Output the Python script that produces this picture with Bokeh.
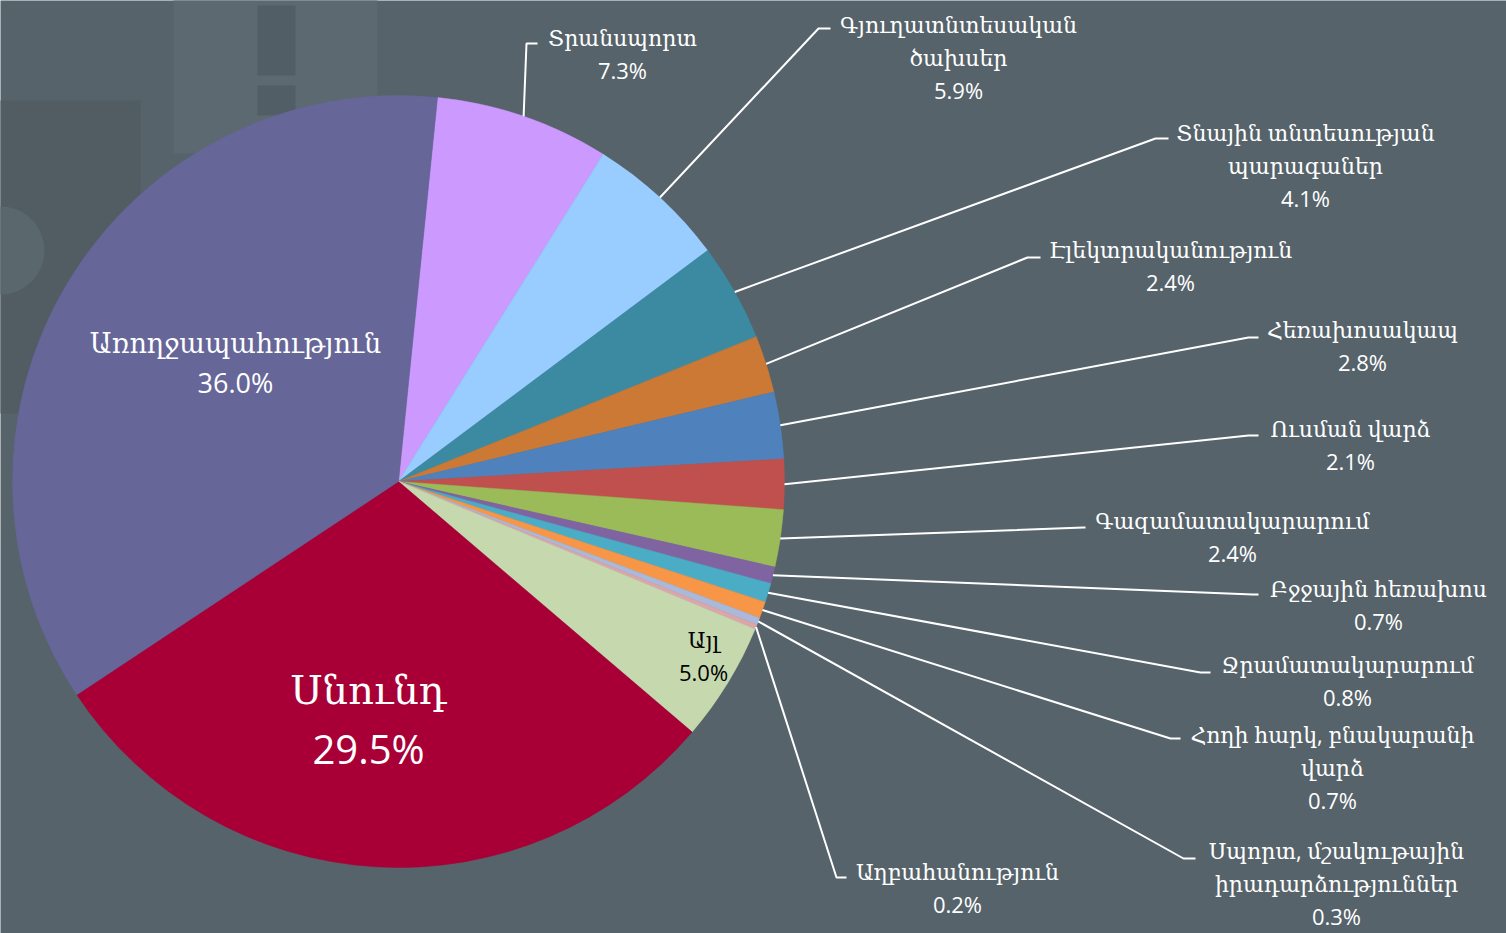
import math
import pandas as pd
from bokeh.plotting import figure
from bokeh.models import Range1d, ColumnDataSource
from bokeh.core.properties import value
from bokeh.embed import file_html
from bokeh.resources import INLINE

# ---------------- data (clockwise from the top) ----------------
categories = [
    "Տրանսպորտ",
    "Գյուղատնտեսական\nծախսեր",
    "Տնային տնտեսության\nպարագաներ",
    "Էլեկտրականություն",
    "Հեռախոսակապ",
    "Ուսման վարձ",
    "Գազամատակարարում",
    "Բջջային հեռախոս",
    "Ջրամատակարարում",
    "Հողի հարկ, բնակարանի\nվարձ",
    "Սպորտ, մշակութային\nիրադարձություններ",
    "Աղբահանություն",
    "Այլ",
    "Սնունդ",
    "Առողջապահություն",
]
values = [7.3, 5.9, 4.1, 2.4, 2.8, 2.1, 2.4, 0.7, 0.8, 0.7, 0.3, 0.2, 5.0, 29.5, 36.0]
colors = ["#CC99FF", "#99CCFF", "#3B8AA2", "#CB7935", "#4F81BD", "#C0504D",
          "#9BBB59", "#8064A2", "#4BACC6", "#F79646", "#AAB9DA", "#DBA6AA",
          "#C6D8AE", "#A80036", "#666699"]

# ---------------- layout (page pixels) ----------------
W, H = 1506, 933
CX, CY, R = 398, 481, 386
START_DEG = 84.2

def Y(py):
    return H - py

# outside labels: (label centre x, label centre y, elbow x, elbow y, tail x)
outside = {
    0: (622, 53, 526, 43, 537),
    1: (958, 56, 818, 28, 830),
    2: (1305, 164, 1155, 138, 1168),
    3: (1170, 265, 1027, 257, 1040),
    4: (1362, 345, 1248, 337, 1258),
    5: (1350, 444, 1248, 435, 1258),
    6: (1232, 536, 1083, 527, 1085),
    7: (1378, 604, 1252, 594, 1258),
    8: (1347, 680, 1200, 672, 1210),
    9: (1332, 766, 1170, 738, 1180),
    10: (1336, 882, 1183, 858, 1195),
    11: (957, 887, 836, 877, 846),
}
inside = {
    12: (703, 655, 22, "#000000"),
    13: (368, 718, 40, "#FFFFFF"),
    14: (235, 362, 27, "#FFFFFF"),
}
LH = 1.1

total = sum(values)
df = pd.DataFrame({"cat": categories, "val": values, "color": colors})
df["span"] = df["val"] / total * 2 * math.pi
df["end"] = math.radians(START_DEG) - df["span"].cumsum()
df["start"] = df["end"] + df["span"]
df["mid"] = (df["start"] + df["end"]) / 2
df["label"] = [f"{c}\n{v:.1f}%" for c, v in zip(categories, values)]

p = figure(width=W, height=H, output_backend="svg", toolbar_location=None,
           x_range=Range1d(0, W), y_range=Range1d(0, H),
           min_border=0, background_fill_color="#56636A", border_fill_color="#56636A")
p.axis.visible = False
p.grid.visible = False
p.outline_line_color = None

# faint decorative background shapes
p.quad(left=[-10], right=[140], top=[Y(100)], bottom=[Y(413)], fill_color="#515D63", line_color=None)
p.circle(x=[0], y=[Y(250)], radius=44, fill_color="#5A676D", line_color=None)
p.quad(left=[173], right=[377], top=[Y(-10)], bottom=[Y(153)], fill_color="#5C6970", line_color=None)
p.quad(left=[257, 257], right=[295, 295], top=[Y(5), Y(85)], bottom=[Y(75), Y(115)],
       fill_color="#525E65", line_color=None)

src = ColumnDataSource(df)
p.wedge(x=CX, y=Y(CY), radius=R, start_angle="start", end_angle="end", direction="clock",
        fill_color="color", line_color="color", line_width=0.5, source=src)

font = value("'Open Sans', 'DejaVu Serif'")

# leader lines + outside labels
lx, ly, lt, tx, ty = [], [], [], [], []
for i, (cx_, cy_, ex, ey, tailx) in outside.items():
    m = df["mid"][i]
    sx = CX + R * math.cos(m)
    sy = Y(CY) + R * math.sin(m)
    lx.append([sx, ex, tailx])
    ly.append([sy, Y(ey), Y(ey)])
    lt.append(df["label"][i])
    tx.append(cx_)
    ty.append(Y(cy_))
p.multi_line(xs=lx, ys=ly, line_color="white", line_width=2)
p.text(x=tx, y=ty, text=lt, text_align="center", text_baseline="middle",
       text_font=font, text_font_size="22px", text_color="white", text_line_height=LH)

for i, (cx_, cy_, fs, col) in inside.items():
    p.text(x=[cx_], y=[Y(cy_)], text=[df["label"][i]], text_align="center", text_baseline="middle",
           text_font=font, text_font_size=f"{fs}px", text_color=col, text_line_height=LH)

open("out.html", "w").write(file_html(p, INLINE))
